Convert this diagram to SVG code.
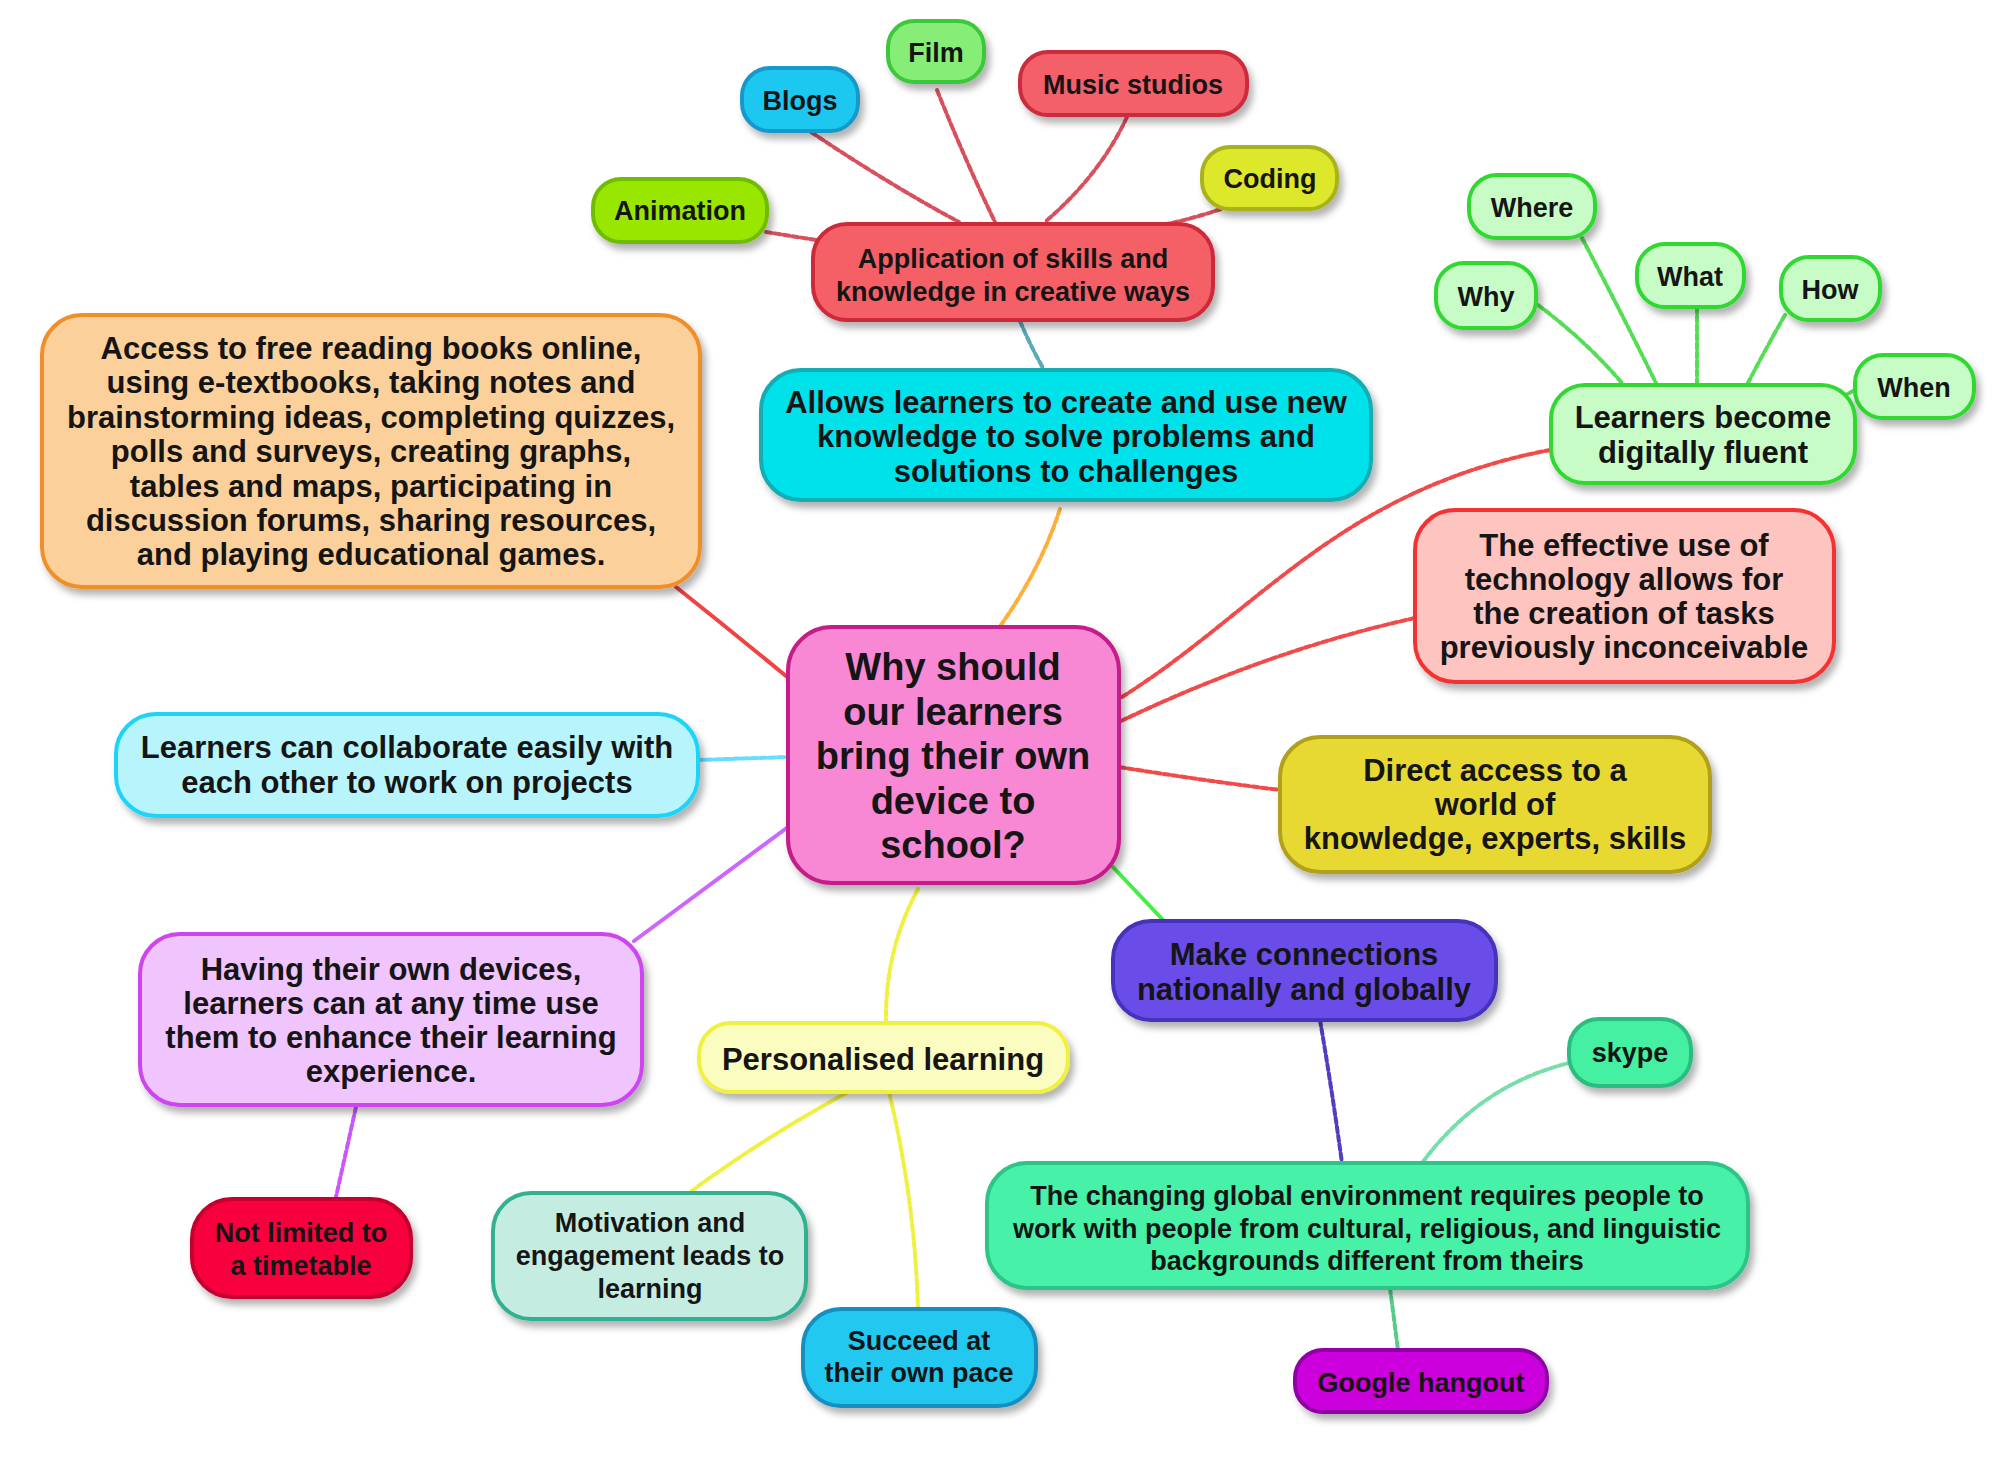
<svg xmlns="http://www.w3.org/2000/svg" width="2000" height="1474" viewBox="0 0 2000 1474">
<defs>
<filter id="sh" x="-10%" y="-10%" width="130%" height="140%">
<feDropShadow dx="4" dy="6" stdDeviation="3.5" flood-color="#000" flood-opacity="0.3"/>
</filter>
</defs>
<style>
.n rect{stroke-width:4;filter:url(#sh)}
.n text{font-family:"Liberation Sans",Arial,sans-serif;font-weight:bold;fill:#151515;text-anchor:middle}
.s text{font-size:27px}
.m text{font-size:31px}
.c path{fill:none;stroke-width:4;stroke-linecap:round;stroke-dasharray:6 3}
.c path.solid{stroke-dasharray:none}
</style>
<rect width="2000" height="1474" fill="#ffffff"/>
<g id="connectors" class="c">
<path d="M816,240 L766,232" stroke="#d8505c"/>
<path d="M811,132 Q890,185 959,222" stroke="#d8505c"/>
<path d="M937,90 Q965,160 995,222" stroke="#d8505c"/>
<path d="M1127,117 Q1100,175 1045,222" stroke="#d8505c"/>
<path d="M1221,209 Q1195,218 1167,224" stroke="#d8505c"/>
<path d="M1020,321 Q1030,345 1043,368" stroke="#5aa8b8"/>
<path d="M1060,509 Q1040,570 1001,625" stroke="#ffae3a"/>
<path d="M676,587 Q730,630 786,676" stroke="#ee4444" class="solid"/>
<path d="M1122,697 C1260,610 1340,490 1550,450" stroke="#f04a4a"/>
<path d="M1121,721 Q1270,650 1415,618" stroke="#f04a4a"/>
<path d="M1119,767 Q1200,780 1280,790" stroke="#f04a4a"/>
<path d="M1112,866 L1163,920" stroke="#44ee44" class="solid"/>
<path d="M918,889 Q885,950 886,1021" stroke="#f0f040"/>
<path d="M697,760 L788,757" stroke="#66ddff"/>
<path d="M634,941 L788,827" stroke="#cc66ff" class="solid"/>
<path d="M356,1107 L336,1197" stroke="#cc55ff"/>
<path d="M848,1092 Q760,1140 689,1193" stroke="#f0f040"/>
<path d="M889,1092 Q915,1200 918,1310" stroke="#f0f040"/>
<path d="M1320,1020 Q1332,1090 1342,1163" stroke="#5040c0"/>
<path d="M1422,1163 Q1480,1085 1569,1063" stroke="#77ddaa"/>
<path d="M1390,1288 L1398,1350" stroke="#55cc88"/>
<path d="M1538,305 Q1585,340 1622,383" stroke="#55dd55"/>
<path d="M1582,238 Q1620,310 1656,383" stroke="#55dd55"/>
<path d="M1697,307 L1697,383" stroke="#55dd55"/>
<path d="M1785,315 Q1765,350 1748,383" stroke="#55dd55"/>
<path d="M1855,390 L1840,398" stroke="#55dd55"/>
</g>
<g id="n-film" class="n s"><rect x="888" y="21" width="96" height="61" rx="26" fill="#86ee76" stroke="#3ec83a"/><text x="936" y="62">Film</text></g>
<g id="n-blogs" class="n s"><rect x="742" y="68" width="116" height="63" rx="28" fill="#1ec8f0" stroke="#1898c8"/><text x="800" y="110">Blogs</text></g>
<g id="n-music" class="n s"><rect x="1020" y="52" width="227" height="63" rx="28" fill="#f4606a" stroke="#cc2a3c"/><text x="1133" y="94">Music studios</text></g>
<g id="n-coding" class="n s"><rect x="1202" y="147" width="135" height="62" rx="28" fill="#dde82c" stroke="#a8b21c"/><text x="1270" y="188">Coding</text></g>
<g id="n-animation" class="n s"><rect x="593" y="179" width="174" height="63" rx="28" fill="#99e600" stroke="#70bc00"/><text x="680" y="220">Animation</text></g>
<g id="n-application" class="n s"><rect x="813" y="224" width="400" height="96" rx="34" fill="#f55e66" stroke="#cc2a3a"/><text x="1013" y="268">Application of skills and<tspan x="1013" dy="33">knowledge in creative ways</tspan></text></g>
<g id="n-where" class="n s"><rect x="1469" y="175" width="126" height="63" rx="28" fill="#c8fcc6" stroke="#30d830"/><text x="1532" y="217">Where</text></g>
<g id="n-why" class="n s"><rect x="1436" y="263" width="100" height="65" rx="28" fill="#c8fcc6" stroke="#30d830"/><text x="1486" y="306">Why</text></g>
<g id="n-what" class="n s"><rect x="1637" y="244" width="107" height="63" rx="28" fill="#c8fcc6" stroke="#30d830"/><text x="1690" y="286">What</text></g>
<g id="n-how" class="n s"><rect x="1781" y="257" width="99" height="63" rx="28" fill="#c8fcc6" stroke="#30d830"/><text x="1830" y="299">How</text></g>
<g id="n-when" class="n s"><rect x="1855" y="355" width="119" height="63" rx="28" fill="#c8fcc6" stroke="#30d830"/><text x="1914" y="397">When</text></g>
<g id="n-fluent" class="n m"><rect x="1551" y="385" width="304" height="98" rx="34" fill="#c8fcc6" stroke="#30d830"/><text x="1703" y="428">Learners become<tspan x="1703" dy="35">digitally fluent</tspan></text></g>
<g id="n-access" class="n m"><rect x="42" y="315" width="658" height="272" rx="40" fill="#fcd09a" stroke="#f08e2c"/><text x="371" y="359">Access to free reading books online,<tspan x="371" dy="34.4">using e-textbooks, taking notes and</tspan><tspan x="371" dy="34.4">brainstorming ideas, completing quizzes,</tspan><tspan x="371" dy="34.4">polls and surveys, creating graphs,</tspan><tspan x="371" dy="34.4">tables and maps, participating in</tspan><tspan x="371" dy="34.4">discussion forums, sharing resources,</tspan><tspan x="371" dy="34.4">and playing educational games.</tspan></text></g>
<g id="n-allows" class="n m"><rect x="761" y="370" width="610" height="130" rx="40" fill="#00e2ea" stroke="#12acb4"/><text x="1066" y="413">Allows learners to create and use new<tspan x="1066" dy="34.4">knowledge to solve problems and</tspan><tspan x="1066" dy="34.4">solutions to challenges</tspan></text></g>
<g id="n-effective" class="n m"><rect x="1415" y="510" width="419" height="172" rx="40" fill="#fdc4c0" stroke="#f43232"/><text x="1624" y="556">The effective use of<tspan x="1624" dy="34">technology allows for</tspan><tspan x="1624" dy="34">the creation of tasks</tspan><tspan x="1624" dy="34">previously inconceivable</tspan></text></g>
<g id="n-center" class="n"><rect x="788" y="627" width="331" height="256" rx="44" fill="#f888d4" stroke="#c41e88"/><text x="953" y="680" style="font-size:38px">Why should<tspan x="953" dy="44.5">our learners</tspan><tspan x="953" dy="44.5">bring their own</tspan><tspan x="953" dy="44.5">device to</tspan><tspan x="953" dy="44.5">school?</tspan></text></g>
<g id="n-collab" class="n m"><rect x="116" y="714" width="582" height="102" rx="40" fill="#b8f4fc" stroke="#1ed4f8"/><text x="407" y="758">Learners can collaborate easily with<tspan x="407" dy="35">each other to work on projects</tspan></text></g>
<g id="n-direct" class="n m"><rect x="1280" y="737" width="430" height="135" rx="40" fill="#e8d832" stroke="#b0a01e"/><text x="1495" y="781">Direct access to a<tspan x="1495" dy="34">world of</tspan><tspan x="1495" dy="34">knowledge, experts, skills</tspan></text></g>
<g id="n-having" class="n m"><rect x="140" y="934" width="502" height="171" rx="40" fill="#f0c4fc" stroke="#cc44ee"/><text x="391" y="980">Having their own devices,<tspan x="391" dy="34">learners can at any time use</tspan><tspan x="391" dy="34">them to enhance their learning</tspan><tspan x="391" dy="34">experience.</tspan></text></g>
<g id="n-connect" class="n m"><rect x="1113" y="921" width="383" height="99" rx="38" fill="#6a4ee8" stroke="#4630bc"/><text x="1304" y="965">Make connections<tspan x="1304" dy="35">nationally and globally</tspan></text></g>
<g id="n-personal" class="n m"><rect x="699" y="1023" width="369" height="69" rx="32" fill="#fafcc0" stroke="#f0f040"/><text x="883" y="1070">Personalised learning</text></g>
<g id="n-skype" class="n s"><rect x="1569" y="1019" width="122" height="67" rx="30" fill="#44f0a2" stroke="#2cbc80"/><text x="1630" y="1062">skype</text></g>
<g id="n-changing" class="n s"><rect x="987" y="1163" width="761" height="125" rx="40" fill="#46f2a8" stroke="#2ec488"/><text x="1367" y="1205">The changing global environment requires people to<tspan x="1367" dy="32.5">work with people from cultural, religious, and linguistic</tspan><tspan x="1367" dy="32.5">backgrounds different from theirs</tspan></text></g>
<g id="n-notlimited" class="n s"><rect x="192" y="1199" width="219" height="98" rx="40" fill="#f8003c" stroke="#c4002e"/><text x="301" y="1242">Not limited to<tspan x="301" dy="33">a timetable</tspan></text></g>
<g id="n-motivation" class="n s"><rect x="493" y="1193" width="313" height="126" rx="38" fill="#c4ece0" stroke="#30b092"/><text x="650" y="1232">Motivation and<tspan x="650" dy="33">engagement leads to</tspan><tspan x="650" dy="33">learning</tspan></text></g>
<g id="n-succeed" class="n s"><rect x="803" y="1309" width="233" height="97" rx="38" fill="#24c8f0" stroke="#168ec0"/><text x="919" y="1350">Succeed at<tspan x="919" dy="32">their own pace</tspan></text></g>
<g id="n-google" class="n s"><rect x="1295" y="1350" width="252" height="62" rx="28" fill="#cc00dc" stroke="#8e00a6"/><text x="1421" y="1392">Google hangout</text></g>
</svg>
